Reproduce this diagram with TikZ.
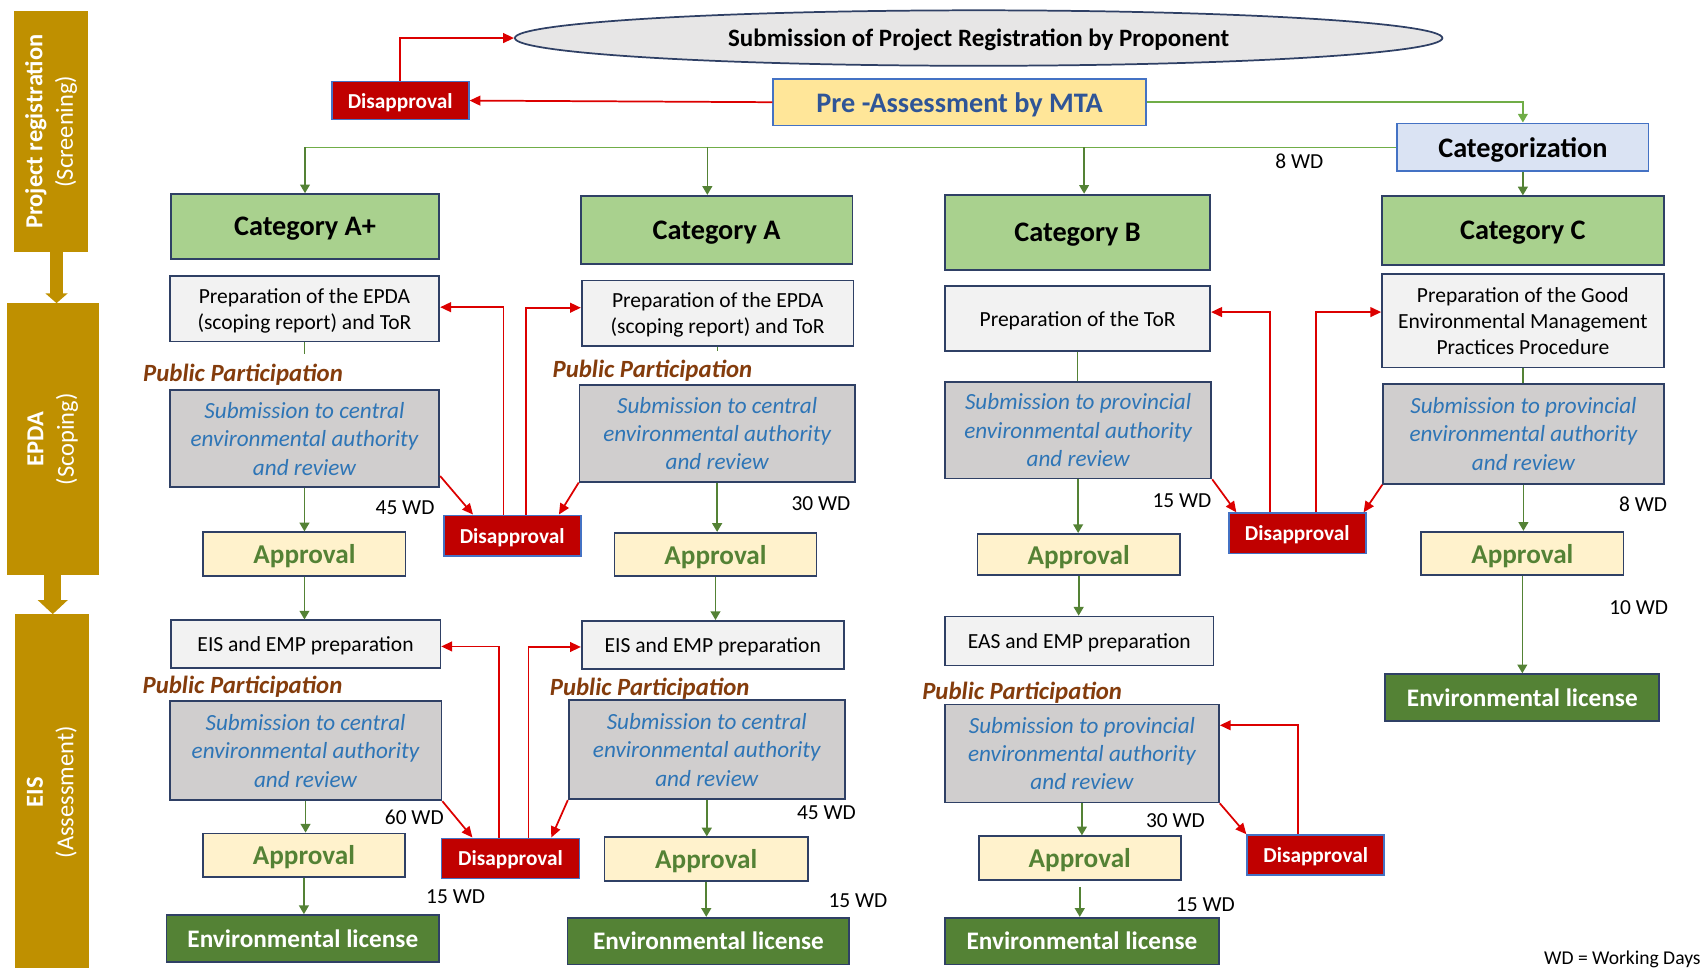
\documentclass[tikz,border=0pt]{standalone}
\usepackage{fontspec}
\setmainfont{Carlito}
\usetikzlibrary{arrows.meta,shapes.geometric}
\definecolor{navy}{HTML}{2F4065}
\definecolor{blueB}{HTML}{4472C4}
\definecolor{gold}{HTML}{BF9000}
\definecolor{ellfill}{HTML}{E7E6E6}
\definecolor{prefill}{HTML}{FFE699}
\definecolor{pretext}{HTML}{2F5597}
\definecolor{catfill}{HTML}{A9D18E}
\definecolor{cztfill}{HTML}{DAE3F3}
\definecolor{prepfill}{HTML}{F2F2F2}
\definecolor{subfill}{HTML}{D0CECE}
\definecolor{subtext}{HTML}{2E75B6}
\definecolor{apfill}{HTML}{FFF2CC}
\definecolor{aptext}{HTML}{548235}
\definecolor{licfill}{HTML}{548235}
\definecolor{disfill}{HTML}{C00000}
\definecolor{ppcol}{HTML}{843C0C}
\definecolor{redL}{RGB}{220,0,0}
\definecolor{greenL}{HTML}{70AD47}
\definecolor{greenD}{HTML}{548235}
\begin{document}
\begin{tikzpicture}[x=1pt,y=-1pt,
  base/.style={draw=navy, line width=1.6pt, inner sep=0pt, align=center, text depth=0pt},
  catbox/.style={base, fill=catfill, font=\fontsize{26}{30}\selectfont\bfseries},
  prepbox/.style={base, fill=prepfill, font=\fontsize{19.8}{24}\selectfont},
  subbox/.style={base, fill=subfill, text=subtext, font=\fontsize{21.3}{26}\selectfont\itshape},
  apbox/.style={base, fill=apfill, text=aptext, font=\fontsize{25}{30}\selectfont\bfseries},
  licbox/.style={base, fill=licfill, text=white, font=\fontsize{23.2}{28}\selectfont\bfseries},
  disbox/.style={draw=blueB, line width=1.6pt, fill=disfill, text=white, inner sep=0pt, text depth=0pt, font=\fontsize{19.6}{23}\selectfont\bfseries},
  pplabel/.style={text=ppcol, inner sep=0pt, font=\fontsize{22.8}{27}\selectfont\bfseries\itshape},
  wd/.style={inner sep=0pt, font=\fontsize{19.7}{23}\selectfont},
  sidebar/.style={fill=gold, rotate=90, inner sep=0pt, text=white, align=center, font=\fontsize{22.5}{28}\selectfont},
  fatarrow/.style={draw=gold},
  gline/.style={draw=greenD, line width=1.5pt},
  glineL/.style={draw=greenL, line width=1.5pt},
  garrow/.style={gline, -{Triangle[width=9pt,length=8pt]}},
  garrowL/.style={glineL, -{Triangle[width=9pt,length=8pt]}},
  rarrow/.style={draw=redL, line width=1.6pt, -{Triangle[width=9pt,length=10pt]}}
]
\path[use as bounding box] (0,0) rectangle (1568,890);

% sidebar
\node[sidebar, minimum width=221pt, minimum height=68.6pt] (bar1) at (47,121) {{\bfseries Project registration}\\(Screening)};
\node[sidebar, minimum width=250pt, minimum height=84.5pt] (bar2) at (48.5,404) {{\bfseries EPDA}\\(Scoping)};
\node[sidebar, minimum width=327pt, minimum height=68.6pt] (bar3) at (47.7,728.5) {{\bfseries EIS}\\(Assessment)};
\draw[fatarrow, line width=12.7pt, -{Triangle[width=20pt,length=9pt]}] ([xshift=5pt]bar1.west) -- ([xshift=5pt]bar1.west |- bar2.east);
\draw[fatarrow, line width=16pt, -{Triangle[width=27pt,length=13pt]}] (bar2.west) -- (bar2.west |- bar3.east);

% top
\node[ellipse, draw=navy, line width=1.6pt, fill=ellfill, minimum width=853pt, minimum height=51pt, inner sep=0pt, text depth=0pt, font=\fontsize{23}{28}\selectfont\bfseries] (sub) at (900,35) {Submission of Project Registration by Proponent};
\node[draw=blueB, line width=1.6pt, fill=prefill, text=pretext, minimum width=343pt, minimum height=43pt, inner sep=0pt, text depth=0pt, font=\fontsize{26}{30}\selectfont\bfseries] (pre) at (882.5,94) {Pre -Assessment by MTA};
\node[disbox, minimum width=126pt, minimum height=35pt] (dis0) at (368,92.5) {Disapproval};
\node[draw=blueB, line width=1.6pt, fill=cztfill, minimum width=231pt, minimum height=44pt, inner sep=0pt, text depth=0pt, font=\fontsize{26}{30}\selectfont\bfseries] (cat) at (1400.5,135.5) {Categorization};
\node[wd] (wd0) at (1195,148.5) {8 WD};

% categories
\node[catbox, minimum width=247pt, minimum height=60pt] (catAp) at (280.5,208.5) {Category A+};
\node[catbox, minimum width=250pt, minimum height=63pt] (catA) at (659,211.5) {Category A};
\node[catbox, minimum width=244pt, minimum height=69pt] (catB) at (991,213.5) {Category B};
\node[catbox, minimum width=259pt, minimum height=63pt] (catC) at (1400.5,212) {Category C};

% preparation
\node[prepbox, minimum width=248pt, minimum height=60pt] (prepAp) at (280,284) {Preparation of the EPDA\\(scoping report) and ToR};
\node[prepbox, minimum width=250pt, minimum height=60pt] (prepA) at (660,288) {Preparation of the EPDA\\(scoping report) and ToR};
\node[prepbox, minimum width=244pt, minimum height=60pt] (prepB) at (991,293) {Preparation of the ToR};
\node[prepbox, minimum width=259pt, minimum height=86pt] (prepC) at (1400.5,295) {Preparation of the Good\\Environmental Management\\Practices Procedure};

% public participation (EPDA)
\node[pplabel] (ppAp1) at (223.5,345) {Public Participation};
\node[pplabel] (ppA1) at (600,341) {Public Participation};

% submissions EPDA
\node[subbox, minimum width=248pt, minimum height=89pt] (subAp1) at (280,403.5) {Submission to central\\environmental authority\\and review};
\node[subbox, minimum width=253pt, minimum height=89pt] (subA1) at (659.5,398.5) {Submission to central\\environmental authority\\and review};
\node[subbox, minimum width=245pt, minimum height=89pt] (subB1) at (991.5,395.5) {Submission to provincial\\environmental authority\\and review};
\node[subbox, minimum width=258pt, minimum height=92pt] (subC1) at (1401,399) {Submission to provincial\\environmental authority\\and review};

% approvals EPDA
\node[apbox, minimum width=186pt, minimum height=40pt] (apAp1) at (280,509.5) {Approval};
\node[apbox, minimum width=186pt, minimum height=40pt] (apA1) at (658,510) {Approval};
\node[apbox, minimum width=186pt, minimum height=38pt] (apB1) at (992,510) {Approval};
\node[apbox, minimum width=186pt, minimum height=40pt] (apC) at (1400,509) {Approval};

% disapprovals EPDA
\node[disbox, minimum width=126pt, minimum height=37pt] (disAA1) at (471,492.5) {Disapproval};
\node[disbox, minimum width=126pt, minimum height=37pt] (disBC1) at (1193,490.5) {Disapproval};

% EIS preparation
\node[prepbox, minimum width=248pt, minimum height=44pt] (eisAp) at (281,592.5) {EIS and EMP preparation};
\node[prepbox, minimum width=241pt, minimum height=44pt] (eisA) at (655.5,593) {EIS and EMP preparation};
\node[prepbox, minimum width=247pt, minimum height=45pt] (easB) at (992.5,589.5) {EAS and EMP preparation};

\node[licbox, minimum width=252pt, minimum height=43pt] (licC) at (1400,641.5) {Environmental license};

% public participation (EIS)
\node[pplabel] (ppAp2) at (223,631.5) {Public Participation};
\node[pplabel] (ppA2) at (597.5,633.5) {Public Participation};
\node[pplabel] (ppB2) at (940,637) {Public Participation};

% submissions EIS
\node[subbox, minimum width=250pt, minimum height=91pt] (subAp2) at (281,690.5) {Submission to central\\environmental authority\\and review};
\node[subbox, minimum width=254pt, minimum height=91pt] (subA2) at (650,689.5) {Submission to central\\environmental authority\\and review};
\node[subbox, minimum width=252pt, minimum height=90pt] (subB2) at (995,693) {Submission to provincial\\environmental authority\\and review};

% approvals EIS
\node[apbox, minimum width=186pt, minimum height=40pt] (apAp2) at (279.5,786.5) {Approval};
\node[apbox, minimum width=187pt, minimum height=40pt] (apA2) at (649.5,790) {Approval};
\node[apbox, minimum width=186pt, minimum height=40pt] (apB2) at (993,789) {Approval};

% disapprovals EIS
\node[disbox, minimum width=127pt, minimum height=37pt] (disAA2) at (469.5,789.5) {Disapproval};
\node[disbox, minimum width=126pt, minimum height=37pt] (disB2) at (1210,786.5) {Disapproval};

% licenses
\node[licbox, minimum width=251pt, minimum height=43pt] (licAp) at (278.5,863) {Environmental license};
\node[licbox, minimum width=259pt, minimum height=43pt] (licA) at (651.5,865.5) {Environmental license};
\node[licbox, minimum width=252pt, minimum height=43pt] (licB) at (995,865.5) {Environmental license};

% WD labels
\node[wd] (wd1) at (372.5,467) {45 WD};
\node[wd] (wd2) at (755,463) {30 WD};
\node[wd] (wd3) at (1087,460) {15 WD};
\node[wd] (wd4) at (1511,464) {8 WD};
\node[wd] (wd5) at (1507,559) {10 WD};
\node[wd] (wd6) at (381,752) {60 WD};
\node[wd] (wd7) at (419,825) {15 WD};
\node[wd] (wd8) at (760,747) {45 WD};
\node[wd] (wd9) at (789,828) {15 WD};
\node[wd] (wd10) at (1081,755) {30 WD};
\node[wd] (wd11) at (1108.5,832) {15 WD};
\node[inner sep=0pt, font=\fontsize{18}{22}\selectfont] (legend) at (1492,882) {WD = Working Days};

% top connectors
\draw[rarrow] (pre.west) -- (dis0.east);
\draw[rarrow] (dis0.north) |- (sub.west);
\draw[garrowL] (pre.east) -| (cat.north);
\draw[glineL] (cat.west) -- (catAp.north |- cat.west);
\draw[garrow] (catAp.north |- cat.west) -- (catAp.north);
\draw[garrow] ([xshift=-8.5pt]catA.north |- cat.west) -- ([xshift=-8.5pt]catA.north);
\draw[garrow] ([xshift=6pt]catB.north |- cat.west) -- ([xshift=6pt]catB.north);
\draw[garrow] (cat.south) -- (catC.north);

% green flow
\coordinate (stubAp) at ([yshift=-11pt]prepAp.south);
\coordinate (stubA) at ([yshift=-4pt]prepA.south);
\draw[gline] (prepAp.south) -- (stubAp);
\draw[gline] (prepA.south) -- (stubA);
\draw[gline] (prepB.south) -- (prepB.south |- subB1.north);
\draw[gline] (prepC.south) -- (prepC.south |- subC1.north);
\draw[garrow] (subAp1.south) -- (subAp1.south |- apAp1.north);
\draw[garrow] (subA1.south) -- (subA1.south |- apA1.north);
\draw[garrow] (subB1.south) -- (subB1.south |- apB1.north);
\draw[garrow] (subC1.south) -- (subC1.south |- apC.north);
\draw[garrow] (apAp1.south) -- (apAp1.south |- eisAp.north);
\draw[garrow] (apA1.south) -- (apA1.south |- eisA.north);
\draw[garrow] (apB1.south) -- (apB1.south |- easB.north);
\draw[garrow] (apC.south) -- (apC.south |- licC.north);
\draw[garrow] (subAp2.south) -- (subAp2.south |- apAp2.north);
\draw[garrow] (subA2.south) -- (subA2.south |- apA2.north);
\draw[garrow] (subB2.south) -- (subB2.south |- apB2.north);
\draw[garrow] (apAp2.south) -- (apAp2.south |- licAp.north);
\draw[garrow] (apA2.south) -- (apA2.south |- licA.north);
\draw[garrow] ([yshift=-6pt]apB2.south) -- (apB2.south |- licB.north);

% red feedback EPDA A+/A
\draw[rarrow] ([yshift=11pt]subAp1.south east) -- ([xshift=-36pt]disAA1.north);
\draw[rarrow] (subA1.south west) -- ([xshift=43pt]disAA1.north);
\draw[rarrow] ([xshift=-8pt]disAA1.north) |- ([yshift=1.5pt]prepAp.east);
\draw[rarrow] ([xshift=13pt]disAA1.north) |- ([yshift=5pt]prepA.west);

% red feedback EIS A+/A
\draw[rarrow] (subAp2.south east) -- ([xshift=-35pt]disAA2.north);
\draw[rarrow] (subA2.south west) -- ([xshift=37.5pt]disAA2.north);
\draw[rarrow] ([xshift=-10.5pt]disAA2.north) |- ([yshift=-2pt]eisAp.east);
\draw[rarrow] ([xshift=16.5pt]disAA2.north) |- ([yshift=-2pt]eisA.west);

% red feedback EPDA B/C
\draw[rarrow] (subB1.south east) -- ([xshift=-56pt]disBC1.north);
\draw[rarrow] (subC1.south west) -- ([xshift=61pt]disBC1.north);
\draw[rarrow] ([xshift=-25pt]disBC1.north) |- ([yshift=6pt]prepB.east);
\draw[rarrow] ([xshift=17pt]disBC1.north) |- ([yshift=8pt]prepC.west);

% red feedback EIS B
\draw[rarrow] (subB2.south east) -- (disB2.north west);
\draw[rarrow] ([xshift=-16pt]disB2.north) |- ([yshift=26pt]subB2.east);
\end{tikzpicture}
\end{document}
